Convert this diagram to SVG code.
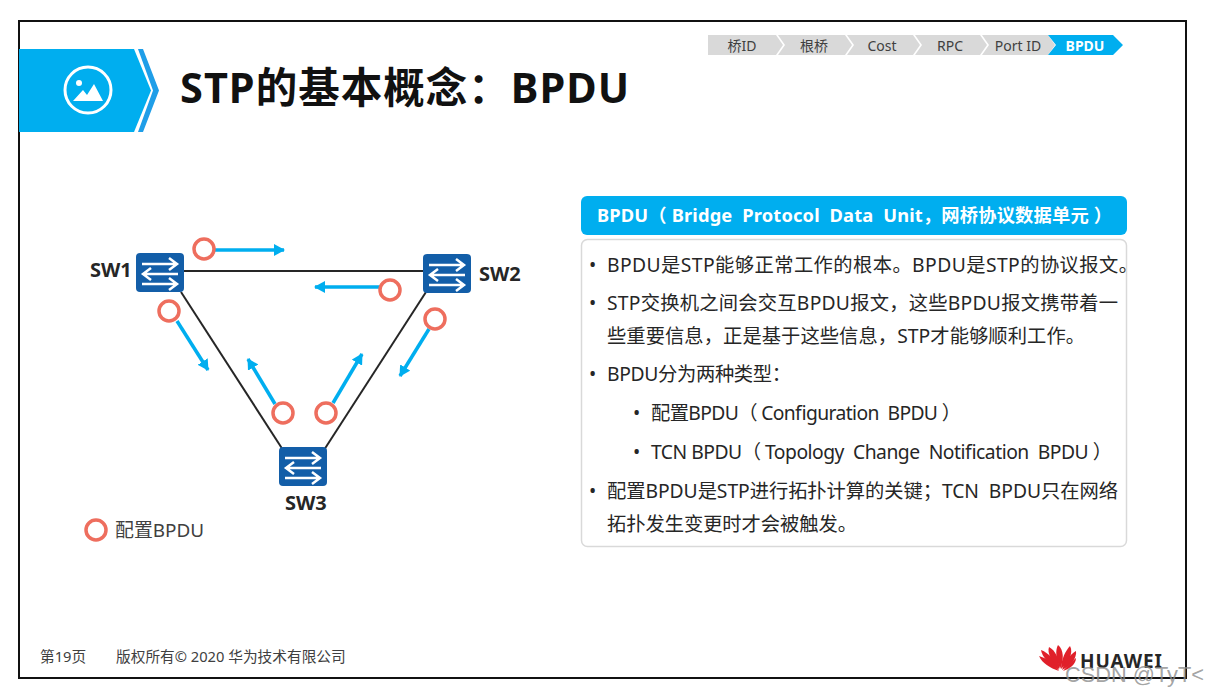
<svg xmlns="http://www.w3.org/2000/svg" width="1205" height="694" viewBox="0 0 1205 694">
<defs>
<style>
text{font-family:"Noto Sans","Noto Sans CJK SC",sans-serif;}
.t{font-size:19.300px;fill:#262626;}
.b{font-size:14px;fill:#404040;text-anchor:middle;}
.sw{font-size:20px;font-weight:700;fill:#262626;}
.ring{fill:#fff;stroke:#ee6e5e;stroke-width:3.500;}
.link{stroke:#262626;stroke-width:2;fill:none;}
.flow{stroke:#00aeef;stroke-width:3.500;fill:none;marker-end:url(#ah);}
.crumb{fill:#d9d9d9;}
</style>
<marker id="ah" markerUnits="userSpaceOnUse" markerWidth="12" markerHeight="12" refX="10" refY="6" orient="auto"><path d="M0 0L11 6L0 12Z" fill="#00aeef"/></marker>
<g id="swicon">
<rect x="-24" y="-20" width="48" height="39" rx="4" fill="#135ea8"/>
<path d="M-18 -9H15M9 -15L17 -9L9 -3M18 1H-15M-9 -5L-17 1L-9 7M-18 11H15M9 5L17 11L9 17" fill="none" stroke="#fff" stroke-width="2.500"/>
</g>
</defs>
<rect width="1205" height="694" fill="#fff"/>
<rect x="19" y="21" width="1167" height="657" fill="#fff" stroke="#111" stroke-width="2"/>
<g id="banner">
<path d="M19 49H134L151 90.500L134 132H19Z" fill="#00aeef"/>
<path d="M138 49H143L159 90.500L143 132H138L153 90.500Z" fill="#1f9ee8"/>
<circle cx="88" cy="90" r="23" fill="none" stroke="#fff" stroke-width="3"/>
<circle cx="79" cy="83" r="3" fill="#fff"/>
<path d="M73 101L83 90L87 95L94 84L103 101Z" fill="#fff"/>
</g>
<text x="180" y="103" font-size="41.500" font-weight="700" fill="#111" textLength="449">STP的基本概念：BPDU</text>
<g id="breadcrumb">
<path class="crumb" d="M708 35H776L783 45L776 55H708Z"/>
<path class="crumb" d="M778 35H845L852 45L845 55H778L785 45Z"/>
<path class="crumb" d="M847 35H913L920 45L913 55H847L854 45Z"/>
<path class="crumb" d="M915 35H980L987 45L980 55H915L922 45Z"/>
<path class="crumb" d="M982 35H1048L1055 45L1048 55H982L989 45Z"/>
<path d="M1048 35H1113L1123 45L1113 55H1048L1056 45Z" fill="#00aeef"/>
<text class="b" x="742" y="51">桥ID</text>
<text class="b" x="814" y="51">根桥</text>
<text class="b" x="882" y="51">Cost</text>
<text class="b" x="950" y="51">RPC</text>
<text class="b" x="1018" y="51">Port ID</text>
<text class="b" x="1085" y="51" style="fill:#fff;font-weight:700">BPDU</text>
</g>
<g id="connectors">
<path class="link" d="M184 271H424"/>
<path class="link" d="M181 292L283 450"/>
<path class="link" d="M426 292L324 450"/>
<path class="flow" d="M215 250H284"/>
<path class="flow" d="M380 287H315"/>
<path class="flow" d="M177 321L208 370"/>
<path class="flow" d="M429 329L400 376"/>
<path class="flow" d="M275 404L248 359"/>
<path class="flow" d="M333 403L362 354"/>
</g>
<g id="sw1"><use href="#swicon" x="160" y="273"/><text class="sw" x="90" y="277">SW1</text></g>
<g id="sw2"><use href="#swicon" x="447" y="274"/><text class="sw" x="479" y="281">SW2</text></g>
<g id="sw3"><use href="#swicon" x="303" y="467"/><text class="sw" x="285" y="510">SW3</text></g>
<g id="bpdu-rings">
<circle class="ring" cx="204" cy="249" r="10"/>
<circle class="ring" cx="390" cy="290" r="10"/>
<circle class="ring" cx="169" cy="311" r="10"/>
<circle class="ring" cx="435" cy="319" r="10"/>
<circle class="ring" cx="283" cy="413" r="10"/>
<circle class="ring" cx="326" cy="413" r="10"/>
</g>
<g id="legend">
<circle class="ring" cx="96" cy="530" r="10"/>
<text x="115" y="537" font-size="18.900" fill="#404040">配置BPDU</text>
</g>
<g id="panel-header">
<rect x="581" y="196" width="546" height="39" rx="6" fill="#00aeef"/>
<text x="597" y="222" font-size="18.300" font-weight="700" fill="#fff" xml:space="preserve" textLength="515">BPDU（ Bridge  Protocol  Data  Unit，网桥协议数据单元 ）</text>
</g>
<g id="panel-body">
<rect x="581.500" y="239.500" width="545" height="307" rx="6" fill="#fff" stroke="#d9d9d9" stroke-width="1.500"/>
<text class="t" x="589" y="272">•</text><text class="t" x="607" y="272" textLength="531">BPDU是STP能够正常工作的根本。BPDU是STP的协议报文。</text>
<text class="t" x="589" y="310">•</text><text class="t" x="607" y="310" textLength="511">STP交换机之间会交互BPDU报文，这些BPDU报文携带着一</text>
<text class="t" x="607" y="343" textLength="478">些重要信息，正是基于这些信息，STP才能够顺利工作。</text>
<text class="t" x="589" y="381">•</text><text class="t" x="607" y="381" textLength="184">BPDU分为两种类型：</text>
<text class="t" x="633" y="420">•</text><text class="t" x="651" y="420" xml:space="preserve" textLength="310">配置BPDU（ Configuration  BPDU ）</text>
<text class="t" x="633" y="459">•</text><text class="t" x="651" y="459" xml:space="preserve" textLength="461">TCN BPDU（ Topology  Change  Notification  BPDU ）</text>
<text class="t" x="589" y="498">•</text><text class="t" x="607" y="498" xml:space="preserve" textLength="511">配置BPDU是STP进行拓扑计算的关键；TCN  BPDU只在网络</text>
<text class="t" x="607" y="531" textLength="250">拓扑发生变更时才会被触发。</text>
</g>
<g id="footer">
<text x="40" y="662" font-size="14.700" fill="#404040">第19页</text>
<text x="116" y="662" font-size="14.700" fill="#404040">版权所有© 2020 华为技术有限公司</text>
</g>
<g id="logo">
<g fill="#e0202a">
<path d="M1059 671C1050 668 1042 663 1039 656C1046 658 1053 663 1059 671Z"/>
<path d="M1059 670C1049 664 1042 657 1041 650C1049 653 1056 661 1059 670Z"/>
<path d="M1059 669C1051 660 1047 653 1049 647C1055 650 1060 659 1059 669Z"/>
<path d="M1060 669C1056 658 1055 651 1058 645C1064 650 1064 660 1060 669Z"/>
<path d="M1061 669C1061 659 1066 650 1070 646C1074 653 1068 663 1061 669Z"/>
<path d="M1062 670C1065 660 1072 653 1076 651C1077 658 1071 666 1062 670Z"/>
<path d="M1063 671C1068 665 1075 659 1076 658C1076 664 1070 669 1063 671Z"/>
</g>
<text x="1080" y="668" font-size="19" font-weight="700" fill="#262626" textLength="82">HUAWEI</text>
</g>
<text x="1065" y="682" font-size="21.800" fill="#8c8c8c" fill-opacity="0.8" style="font-family:'Liberation Sans',sans-serif">CSDN @TyT&lt;</text>
</svg>
